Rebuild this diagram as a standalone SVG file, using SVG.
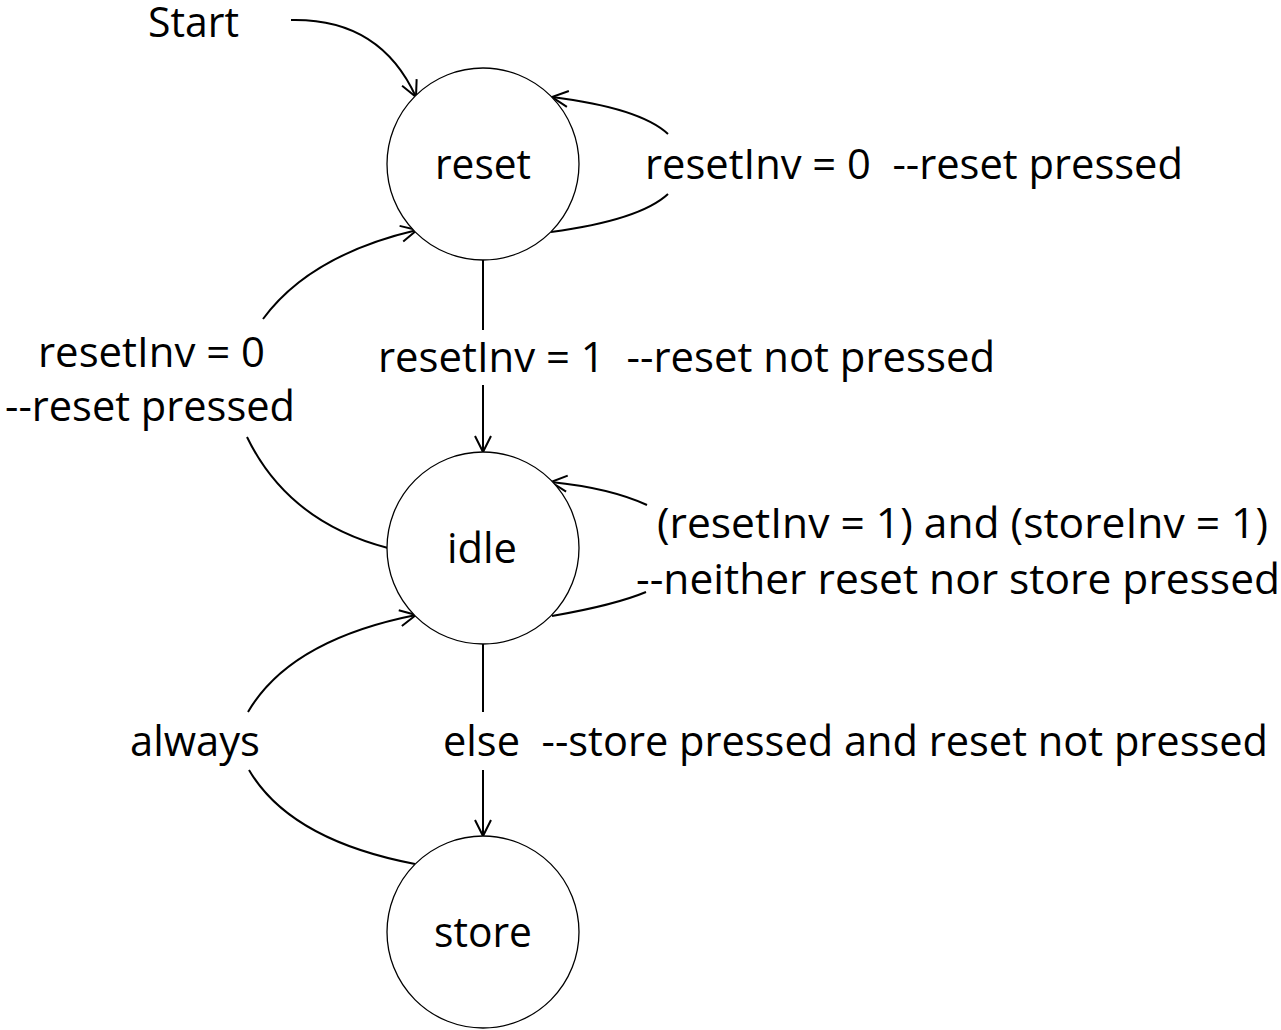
<svg xmlns="http://www.w3.org/2000/svg" width="1281" height="1030" viewBox="0 0 1281 1030">
  <style>
    text { font-family: "Open Sans", "Liberation Sans", sans-serif; font-size: 42px; fill: #000; }
    .state { fill: #fff; stroke: #000; stroke-width: 1.3; }
    .edge { fill: none; stroke: #000; stroke-width: 2; }
  </style>
  <defs>
    <marker id="arrow" markerUnits="userSpaceOnUse" orient="auto" refX="0" refY="0" markerWidth="20" markerHeight="20" overflow="visible">
      <path d="M-16,-8 L0,0 L-16,8" fill="none" stroke="#000" stroke-width="2"/>
    </marker>
  </defs>

  <rect width="1281" height="1030" fill="#fff"/>

  <!-- transitions -->
  <g id="connectors">
    <!-- initial transition -->
    <path class="edge" d="M291,20 Q380,18 416,97" marker-end="url(#arrow)"/>
    <!-- reset self-loop -->
    <path class="edge" d="M551,232 Q640,220 668,194"/>
    <path class="edge" d="M668,134 Q640,108 552,97" marker-end="url(#arrow)"/>
    <!-- reset -> idle -->
    <path class="edge" d="M483,260 L483,330"/>
    <path class="edge" d="M483,385 L483,452" marker-end="url(#arrow)"/>
    <!-- idle -> reset -->
    <path class="edge" d="M388,548 Q288,522 247,437"/>
    <path class="edge" d="M263,319 Q310,255 417,230" marker-end="url(#arrow)"/>
    <!-- idle self-loop -->
    <path class="edge" d="M552,616 Q615,605 646,592"/>
    <path class="edge" d="M647,505 Q610,488 551,482" marker-end="url(#arrow)"/>
    <!-- idle -> store -->
    <path class="edge" d="M483,643 L483,712"/>
    <path class="edge" d="M483,770 L483,836" marker-end="url(#arrow)"/>
    <!-- store -> idle -->
    <path class="edge" d="M415,864 Q290,840 249,770"/>
    <path class="edge" d="M248,712 Q290,640 416,615" marker-end="url(#arrow)"/>
  </g>

  <g id="start-label">
    <text x="148" y="37" textLength="91" lengthAdjust="spacingAndGlyphs">Start</text>
  </g>

  <g id="reset">
    <circle class="state" cx="483" cy="164" r="96"/>
    <text x="435" y="179" textLength="96" lengthAdjust="spacingAndGlyphs">reset</text>
  </g>

  <g id="idle">
    <circle class="state" cx="483" cy="548" r="96"/>
    <text x="447" y="563" textLength="70" lengthAdjust="spacingAndGlyphs">idle</text>
  </g>

  <g id="store">
    <circle class="state" cx="483" cy="932" r="96"/>
    <text x="434" y="947" textLength="98" lengthAdjust="spacingAndGlyphs">store</text>
  </g>

  <!-- transition labels -->
  <g id="labels">
    <text x="645" y="179" textLength="538" lengthAdjust="spacingAndGlyphs" xml:space="preserve">resetInv = 0  --reset pressed</text>
    <text x="378" y="372" textLength="617" lengthAdjust="spacingAndGlyphs" xml:space="preserve">resetInv = 1  --reset not pressed</text>
    <text x="38" y="367" textLength="227" lengthAdjust="spacingAndGlyphs">resetInv = 0</text>
    <text x="5" y="421" textLength="290" lengthAdjust="spacingAndGlyphs">--reset pressed</text>
    <text x="657" y="538" textLength="611" lengthAdjust="spacingAndGlyphs">(resetInv = 1) and (storeInv = 1)</text>
    <text x="636" y="594" textLength="644" lengthAdjust="spacingAndGlyphs">--neither reset nor store pressed</text>
    <text x="130" y="756" textLength="130" lengthAdjust="spacingAndGlyphs">always</text>
    <text x="443" y="756" textLength="825" lengthAdjust="spacingAndGlyphs" xml:space="preserve">else  --store pressed and reset not pressed</text>
  </g>
</svg>
